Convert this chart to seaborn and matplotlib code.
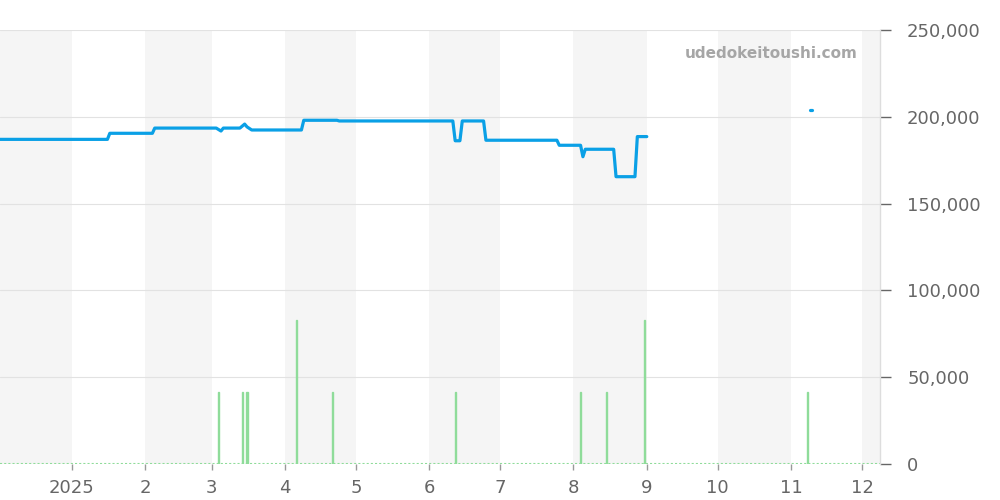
import pandas as pd
import numpy as np
import matplotlib
matplotlib.use("Agg")
import matplotlib.pyplot as plt
import matplotlib.dates as mdates
from matplotlib.ticker import FuncFormatter
import seaborn as sns

# ---- data ----
price_dates = ["2024-12-01", "2025-01-16", "2025-01-17", "2025-02-04", "2025-02-05",
               "2025-03-03", "2025-03-05", "2025-03-06", "2025-03-13", "2025-03-15",
               "2025-03-16", "2025-03-18", "2025-04-08", "2025-04-09", "2025-04-23",
               "2025-04-24", "2025-06-11", "2025-06-12", "2025-06-14", "2025-06-15",
               "2025-06-24", "2025-06-25", "2025-07-25", "2025-07-26", "2025-08-04",
               "2025-08-05", "2025-08-06", "2025-08-18", "2025-08-19", "2025-08-27",
               "2025-08-28", "2025-08-31", "2025-09-01",
               "2025-11-09", "2025-11-10"]
price_values = [187000, 187000, 190500, 190500, 193500,
                193500, 191800, 193500, 193500, 195800,
                194200, 192400, 192400, 198000, 198000,
                197600, 197600, 186200, 186200, 197600,
                197600, 186500, 186500, 183600, 183600,
                177000, 181300, 181300, 165500, 165500,
                188600, 188600, 188600,
                204000, 204000]
# gap between series segments
segment = [0]*33 + [1]*2

vol_dates = ["2025-03-04", "2025-03-14", "2025-03-16", "2025-04-06", "2025-04-21",
             "2025-06-12", "2025-08-04", "2025-08-15", "2025-08-31", "2025-11-08"]
vol_values = [41500, 41500, 41500, 83000, 41500, 41500, 41500, 41500, 83000, 41500]

month_labels = ["2025", "2", "3", "4", "5", "6", "7", "8", "9", "10", "11", "12"]
y_ticks = [0, 50000, 100000, 150000, 200000, 250000]

# ---- figure ----
sns.set_style("white")
plt.rcParams['font.family'] = ['DejaVu Sans']
fig = plt.figure(figsize=(10, 5), dpi=100)
ax = fig.add_axes([0.0, 0.072, 0.88, 0.868])

xmin = pd.Timestamp("2024-12-01 14:00")
xmax = pd.Timestamp("2025-12-08 14:00")

# alternate month shading (even months)
m = pd.Timestamp("2024-12-01")
while m < xmax:
    nxt = m + pd.offsets.MonthBegin(1)
    if m.month % 2 == 0:
        ax.axvspan(m, nxt, color="#f5f5f5", zorder=0, lw=0)
    m = nxt

for yv in y_ticks[1:]:
    ax.axhline(yv, color="#e2e2e2", lw=0.8, zorder=1)

# volume bars
vd = pd.to_datetime(vol_dates)
ax.bar(vd, vol_values, width=0.5, color="#8fdc9a", edgecolor="#8fdc9a", lw=1.0,
       zorder=2, align="center")
ax.axhline(0, color="#8fdc9a", lw=1.5, ls=(0, (1, 1)), zorder=2)

# price line
df = pd.DataFrame({"date": pd.to_datetime(price_dates), "price": price_values, "seg": segment})
for s, g in df.groupby("seg"):
    sns.lineplot(data=g, x="date", y="price", ax=ax, color="#0aa0e6", lw=2.3,
                 zorder=3, legend=False)

ax.set_xlim(xmin, xmax)
ax.set_ylim(0, 250000)

# axes styling
ax.yaxis.tick_right()
ax.set_yticks(y_ticks)
ax.yaxis.set_major_formatter(FuncFormatter(lambda v, p: f"{int(v):,}"))
ticks = pd.date_range("2025-01-01", "2025-12-01", freq="MS")
ax.set_xticks(ticks)
ax.set_xticklabels(month_labels)
ax.tick_params(axis="y", which="major", length=8, color="#666666", labelcolor="#666666",
               labelsize=13, pad=11.5, right=True, left=False, width=1)
ax.tick_params(axis="x", which="major", length=4, color="#999999", labelcolor="#666666",
               labelsize=13, pad=7, bottom=True, width=1)
ax.set_xlabel("")
ax.set_ylabel("")
for sp in ["top", "left", "bottom"]:
    ax.spines[sp].set_visible(False)
ax.spines["right"].set_color("#dddddd")
ax.spines["right"].set_linewidth(1)

ax.text(0.975, 0.945, "udedokeitoushi.com", transform=ax.transAxes, ha="right", va="center",
        fontsize=11, fontweight="bold", color="#a6a6a6", zorder=4)

fig.savefig("out.png", dpi=100)
